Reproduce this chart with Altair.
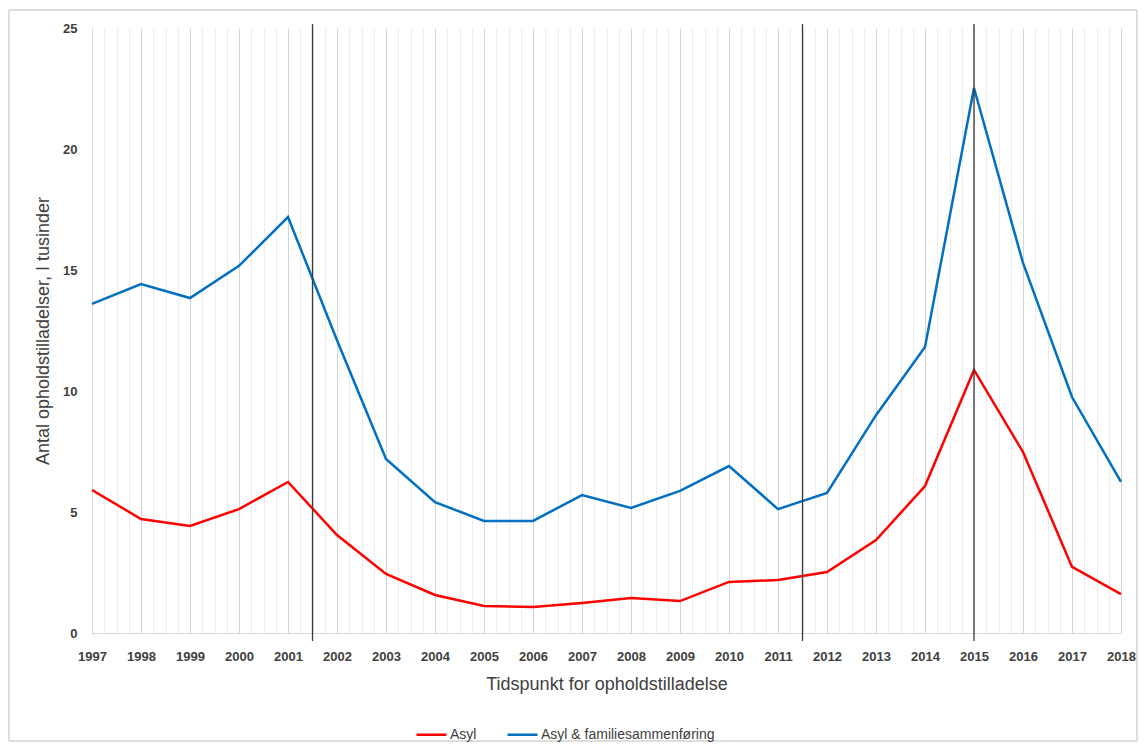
import altair as alt
import pandas as pd

years = list(range(1997, 2019))
asyl = [5.91, 4.71, 4.42, 5.12, 6.24, 4.05, 2.44, 1.57, 1.12, 1.07, 1.24,
        1.45, 1.32, 2.11, 2.19, 2.52, 3.84, 6.07, 10.87, 7.48, 2.73, 1.61]
asyl_fam = [13.6, 14.42, 13.84, 15.17, 17.19, 12.1, 7.19, 5.41, 4.63, 4.63, 5.70,
            5.17, 5.87, 6.90, 5.12, 5.79, 9.0, 11.82, 22.52, 15.29, 9.75, 6.24]
series_names = ["Asyl", "Asyl & familiesammenføring"]
series_colors = ["#FF0000", "#0070C0"]
event_lines = [2001.5, 2011.5, 2015]
y_ticks = [0, 5, 10, 15, 20, 25]

rows = []
for i, yr in enumerate(years):
    rows.append({"year": yr, "value": asyl[i], "serie": series_names[0]})
    rows.append({"year": yr, "value": asyl_fam[i], "serie": series_names[1]})
df = pd.DataFrame(rows)
ev = pd.DataFrame({"year": event_lines})

quarters = [1997 + i * 0.25 for i in range(85) if i % 4 != 0]

W, H = 1029, 605
TXT = "#404040"

xscale = alt.Scale(domain=[1997, 2018], nice=False, zero=False)

border = alt.Chart(ev).mark_rect(fillOpacity=0, stroke="#d9d9d9", strokeWidth=1).encode(
    x=alt.value(-83), x2=alt.value(W + 16), y=alt.value(-18), y2=alt.value(H + 108)
)

lines = alt.Chart(df).mark_line(strokeWidth=2.5).encode(
    x=alt.X("year:Q", scale=xscale,
            axis=alt.Axis(orient="top", values=quarters, labels=False, ticks=False, domain=False,
                          grid=True, gridColor="#ececec", title=None)),
    y=alt.Y("value:Q", scale=alt.Scale(domain=[0, 25], nice=False),
            axis=alt.Axis(values=y_ticks, grid=False, ticks=False, domainColor="#d9d9d9",
                          labelFont="Liberation Sans", labelFontWeight="bold", labelFontSize=13,
                          labelColor=TXT, labelPadding=15,
                          title="Antal opholdstilladelser, I tusinder", titleFont="Liberation Sans",
                          titleFontSize=18, titleFontWeight="normal", titleColor=TXT, titlePadding=10)),
    color=alt.Color("serie:N", scale=alt.Scale(domain=series_names, range=series_colors),
                    legend=alt.Legend(title=None, orient="none", legendX=323, legendY=690,
                                      direction="horizontal", symbolType="stroke", symbolSize=900,
                                      symbolStrokeWidth=2.5, labelFont="Liberation Sans",
                                      labelFontSize=14, labelColor=TXT, columnPadding=25,
                                      labelOffset=2, labelLimit=0)),
)

rules = alt.Chart(ev).mark_rule(color="#3a3a3a", strokeWidth=1.3).encode(
    x=alt.X("year:Q", scale=xscale,
            axis=alt.Axis(orient="bottom", values=years, format="d",
                          labelOverlap=False, labelFlush=False, labelBound=False, grid=True,
                          gridColor="#d4d4d4", ticks=False, domainColor="#d9d9d9",
                          labelFont="Liberation Sans", labelFontWeight="bold", labelFontSize=13,
                          labelColor=TXT, labelPadding=17,
                          title="Tidspunkt for opholdstilladelse", titleFont="Liberation Sans",
                          titleFontSize=18, titleFontWeight="normal", titleColor=TXT, titlePadding=12)),
    y=alt.value(-4), y2=alt.value(H + 8)
)

chart = alt.layer(border, lines, rules).resolve_axis(x="independent").properties(
    width=W, height=H,
    autosize=alt.AutoSizeParams(type="none"),
    padding={"left": 84, "top": 20, "right": 18, "bottom": 110},
).configure_view(stroke=None)

chart.save("out.html", embed_options={"renderer": "svg", "actions": False})
